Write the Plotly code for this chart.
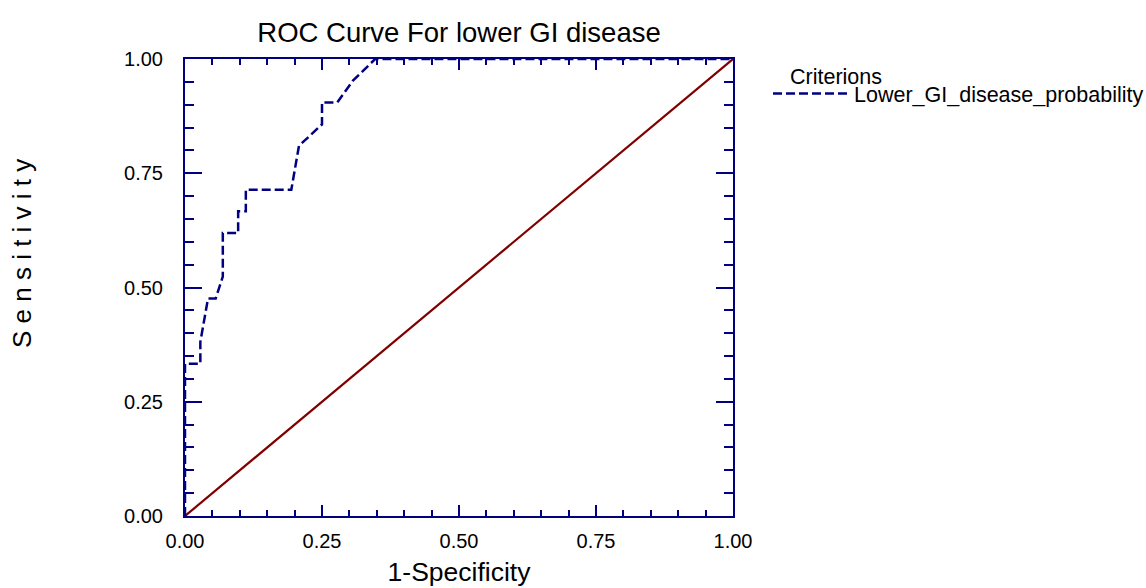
import plotly.graph_objects as go

# ROC curve points (1-Specificity, Sensitivity)
fpr = [0.0, 0.0, 0.0, 0.028, 0.028, 0.042, 0.056, 0.069, 0.069, 0.097, 0.097,
       0.111, 0.111, 0.194, 0.208, 0.250, 0.250, 0.278, 0.306, 0.347, 1.0]
tpr = [0.0, 0.05, 0.333, 0.333, 0.381, 0.476, 0.476, 0.524, 0.619, 0.619, 0.667,
       0.667, 0.714, 0.714, 0.810, 0.857, 0.905, 0.905, 0.952, 1.0, 1.0]
diag_x = [0.0, 1.0]
diag_y = [0.0, 1.0]
tick_vals = [0.0, 0.25, 0.5, 0.75, 1.0]
tick_text = ["0.00", "0.25", "0.50", "0.75", "1.00"]

NAVY = "#000080"
DARKRED = "#800000"
FONT = "Liberation Sans, Arial, sans-serif"

L, R, T, B = 185, 733, 59, 516
W, H = 1146, 588

fig = go.Figure()
fig.add_trace(go.Scatter(x=diag_x, y=diag_y, mode="lines",
                         line=dict(color=DARKRED, width=2.2), showlegend=False,
                         hoverinfo="skip"))
fig.add_trace(go.Scatter(x=fpr, y=tpr, mode="lines", name="Lower_GI_disease_probability",
                         line=dict(color=NAVY, width=2.5, dash="9px,4px")))


def axis(ticklen, minorlen, standoff):
    return dict(
        range=[0, 1], tickvals=tick_vals, ticktext=tick_text,
        ticks="inside", ticklen=ticklen, tickwidth=2, tickcolor=NAVY,
        showline=True, linecolor=NAVY, linewidth=2, mirror="allticks",
        showgrid=False, zeroline=False, ticklabelstandoff=standoff,
        tickfont=dict(family=FONT, size=20, color="black"),
        minor=dict(dtick=0.05, ticks="inside", ticklen=minorlen, tickwidth=2,
                   tickcolor=NAVY, showgrid=False),
    )


fig.update_layout(
    width=W, height=H,
    margin=dict(l=L, r=W - R, t=T, b=H - B, autoexpand=False),
    paper_bgcolor="white", plot_bgcolor="white",
    title=dict(text="ROC Curve For lower GI disease", x=(L + R) / 2 / W, xanchor="center",
               y=1 - 32 / H, yanchor="middle",
               font=dict(family=FONT, size=27.5, color="black")),
    xaxis=dict(**axis(11, 6, 6),
               title=dict(text="1-Specificity", font=dict(family=FONT, size=26.5, color="black"),
                          standoff=11)),
    yaxis=dict(**axis(17, 9, 16)),
    legend=dict(x=(768 - L) / (R - L), y=(B - 73) / (B - T), xanchor="left", yanchor="top",
                font=dict(family=FONT, size=21.5, color="black"),
                itemwidth=76, bgcolor="rgba(0,0,0,0)"),
    showlegend=True,
    annotations=[
        dict(text="S e n s i t i v i t y", xref="paper", yref="paper",
             x=(22 - L) / (R - L), y=(B - 254) / (B - T), xanchor="center", yanchor="middle",
             textangle=-90, showarrow=False,
             font=dict(family=FONT, size=26, color="black")),
        dict(text="Criterions", xref="paper", yref="paper",
             x=(788 - L) / (R - L), y=(B - 77) / (B - T), xanchor="left", yanchor="middle",
             showarrow=False, font=dict(family=FONT, size=21.5, color="black")),
    ],
)

fig.write_html("out.html")
